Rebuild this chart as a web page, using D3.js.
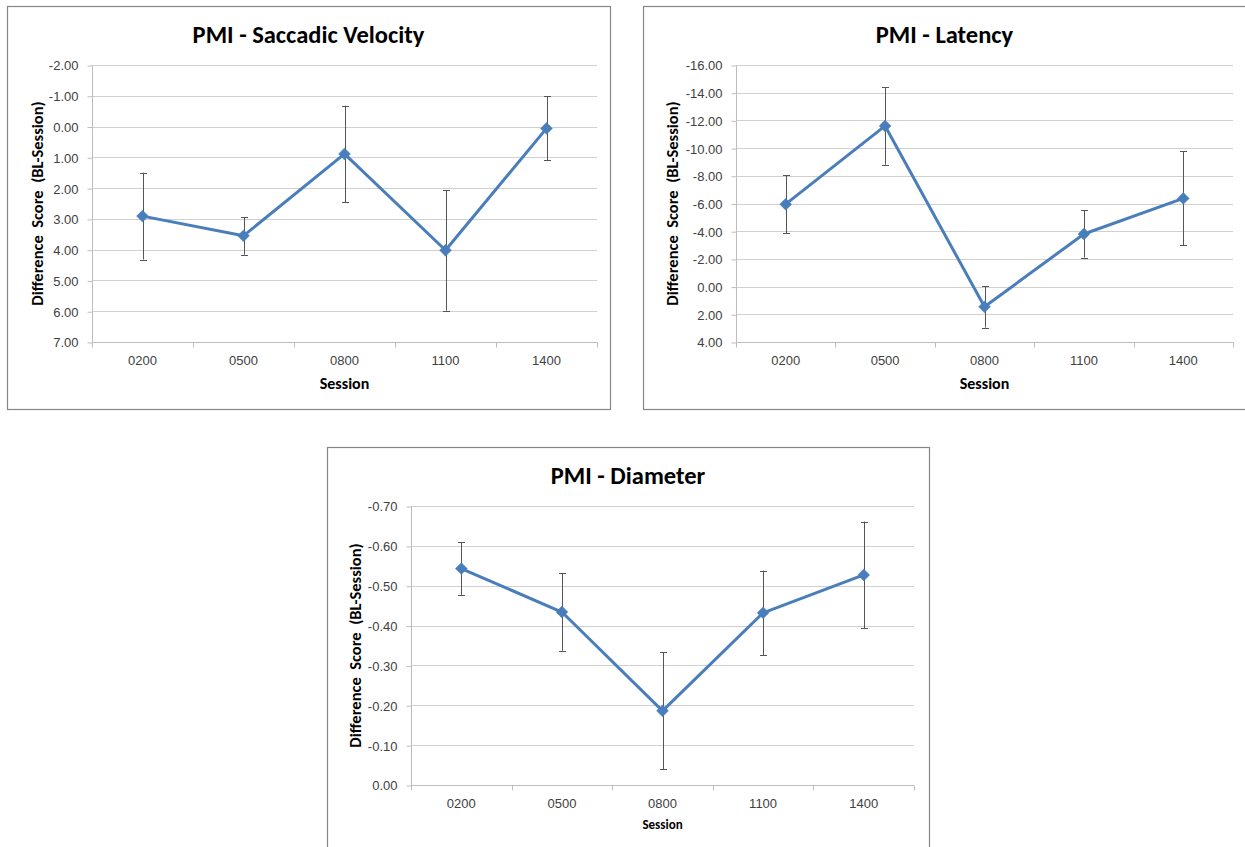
<!DOCTYPE html>
<html>
<head>
<meta charset="utf-8">
<script src="https://cdn.jsdelivr.net/npm/d3@7"></script>
<style>
  body { margin: 0; background: #fff; }
  svg { display: block; font-family: Carlito, Calibri, Lato, "Open Sans", sans-serif; }
  .grid line { stroke: #d0d0d0; stroke-width: 1; }
  .axis path, .axis line { stroke: #bdbdbd; }
  .axis text { fill: #404040; font-size: 13px; }
</style>
</head>
<body>
<svg id="chart" width="1245" height="847"></svg>
<script>
// sessions on the x axis, same for every panel
var sessions = ["0200", "0500", "0800", "1100", "1400"];

// PMI - Saccadic Velocity
var velocityMean = [2.91, 3.55, 0.89, 4.02, 0.06];
var velocityErr  = [1.41, 0.61, 1.57, 1.96, 1.04];
var velocityTicks = [-2, -1, 0, 1, 2, 3, 4, 5, 6, 7];

// PMI - Latency
var latencyMean = [-5.95, -11.6, 1.46, -3.8, -6.37];
var latencyErr  = [2.08, 2.8, 1.5, 1.7, 3.39];
var latencyTicks = [-16, -14, -12, -10, -8, -6, -4, -2, 0, 2, 4];

// PMI - Diameter
var diameterMean = [-0.543, -0.434, -0.186, -0.432, -0.527];
var diameterErr  = [0.066, 0.097, 0.147, 0.106, 0.134];
var diameterTicks = [-0.7, -0.6, -0.5, -0.4, -0.3, -0.2, -0.1, 0];

var svg = d3.select("#chart");
var blue = "#4a7ebb";
var fmt = function(v) { return v.toFixed(2); };

function drawPanel(p) {
  var g = svg.append("g");

  // outer frame
  g.append("rect")
    .attr("x", p.fx + 0.5).attr("y", p.fy + 0.5)
    .attr("width", p.fw).attr("height", p.fh)
    .attr("fill", "#fff").attr("stroke", "#868686").attr("stroke-width", 1.2);

  var x = d3.scaleBand().domain(sessions).range([p.left, p.right]);
  var y = d3.scaleLinear()
    .domain([p.ticks[p.ticks.length - 1], p.ticks[0]])
    .range([p.bottom, p.top]);

  // gridlines
  g.append("g").attr("class", "grid")
    .selectAll("line").data(p.ticks).join("line")
    .attr("x1", p.left).attr("x2", p.right)
    .attr("y1", function(d) { return Math.round(y(d)) + 0.5; })
    .attr("y2", function(d) { return Math.round(y(d)) + 0.5; });

  // y axis
  var ya = g.append("g").attr("class", "axis")
    .attr("transform", "translate(" + (p.left + 0.5) + ",0.5)")
    .call(d3.axisLeft(y).tickValues(p.ticks).tickFormat(fmt).tickSize(5).tickSizeOuter(0));
  ya.select(".domain").remove();
  ya.append("line").attr("x1", 0).attr("x2", 0).attr("y1", p.top).attr("y2", p.bottom).attr("stroke", "#bdbdbd");
  ya.selectAll("text").attr("x", -14).attr("dy", "0.34em");

  // x axis with ticks at category boundaries
  var xa = g.append("g").attr("class", "axis")
    .attr("transform", "translate(0," + (Math.round(p.bottom) + 0.5) + ")")
    .call(d3.axisBottom(x).tickSize(0).tickPadding(13));
  xa.selectAll(".tick text").attr("font-size", 13.5);
  xa.select(".domain").attr("d", "M" + p.left + ",0H" + p.right);
  var bounds = sessions.map(function(s) { return x(s); }).concat([p.right]);
  xa.selectAll(".bound").data(bounds).join("line")
    .attr("class", "bound")
    .attr("x1", function(d) { return Math.round(d) + 0.5; })
    .attr("x2", function(d) { return Math.round(d) + 0.5; })
    .attr("y1", 0).attr("y2", 5);

  // error bars
  var cx = function(i) { return x(sessions[i]) + x.bandwidth() / 2; };
  var eb = g.append("g").attr("stroke", "#555").attr("stroke-width", 1);
  p.mean.forEach(function(m, i) {
    var x0 = Math.round(cx(i)) + 0.5;
    eb.append("line").attr("x1", x0).attr("x2", x0)
      .attr("y1", y(m - p.err[i])).attr("y2", y(m + p.err[i]));
    [m - p.err[i], m + p.err[i]].forEach(function(v) {
      eb.append("line").attr("x1", x0 - 3.5).attr("x2", x0 + 3.5)
        .attr("y1", Math.round(y(v)) + 0.5).attr("y2", Math.round(y(v)) + 0.5);
    });
  });

  // series line
  g.append("path")
    .datum(p.mean)
    .attr("fill", "none").attr("stroke", blue).attr("stroke-width", 3)
    .attr("stroke-linejoin", "round")
    .attr("d", d3.line().x(function(d, i) { return cx(i); }).y(function(d) { return y(d); }));

  // diamond markers
  g.selectAll(".mk").data(p.mean).join("path")
    .attr("class", "mk")
    .attr("transform", function(d, i) { return "translate(" + cx(i) + "," + y(d) + ")"; })
    .attr("d", d3.symbol().type(d3.symbolDiamond2).size(90))
    .attr("fill", blue).attr("stroke", blue).attr("stroke-width", 0.5);

  // titles
  g.append("text")
    .attr("x", p.fx + p.fw / 2).attr("y", p.fy + 37)
    .attr("text-anchor", "middle").attr("font-size", 24.5).attr("font-weight", "bold")
    .attr("fill", "#000")
    .text(p.title);

  g.append("text")
    .attr("transform", "translate(" + (p.left - p.ytOff) + "," + ((p.top + p.bottom) / 2) + ") rotate(-90)")
    .attr("text-anchor", "middle").attr("font-size", 16.5).attr("font-weight", "bold")
    .attr("fill", "#000")
    .style("white-space", "pre")
    .text("Difference  Score  (BL-Session)");

  g.append("text")
    .attr("x", (p.left + p.right) / 2).attr("y", p.bottom + p.xtOff)
    .attr("text-anchor", "middle").attr("font-size", p.xtSize).attr("font-weight", "bold")
    .attr("fill", "#000")
    .text("Session");
}

drawPanel({
  title: "PMI - Saccadic Velocity", mean: velocityMean, err: velocityErr, ticks: velocityTicks,
  fx: 7, fy: 6, fw: 603, fh: 403,
  left: 92, right: 597, top: 65, bottom: 342, ytOff: 49, xtOff: 47, xtSize: 16
});

drawPanel({
  title: "PMI - Latency", mean: latencyMean, err: latencyErr, ticks: latencyTicks,
  fx: 643, fy: 6, fw: 603, fh: 403,
  left: 736, right: 1233, top: 65, bottom: 342, ytOff: 58, xtOff: 47, xtSize: 16
});

drawPanel({
  title: "PMI - Diameter", mean: diameterMean, err: diameterErr, ticks: diameterTicks,
  fx: 327, fy: 447, fw: 602, fh: 410,
  left: 411, right: 914, top: 506, bottom: 785, ytOff: 50, xtOff: 44, xtSize: 13
});
</script>
</body>
</html>
